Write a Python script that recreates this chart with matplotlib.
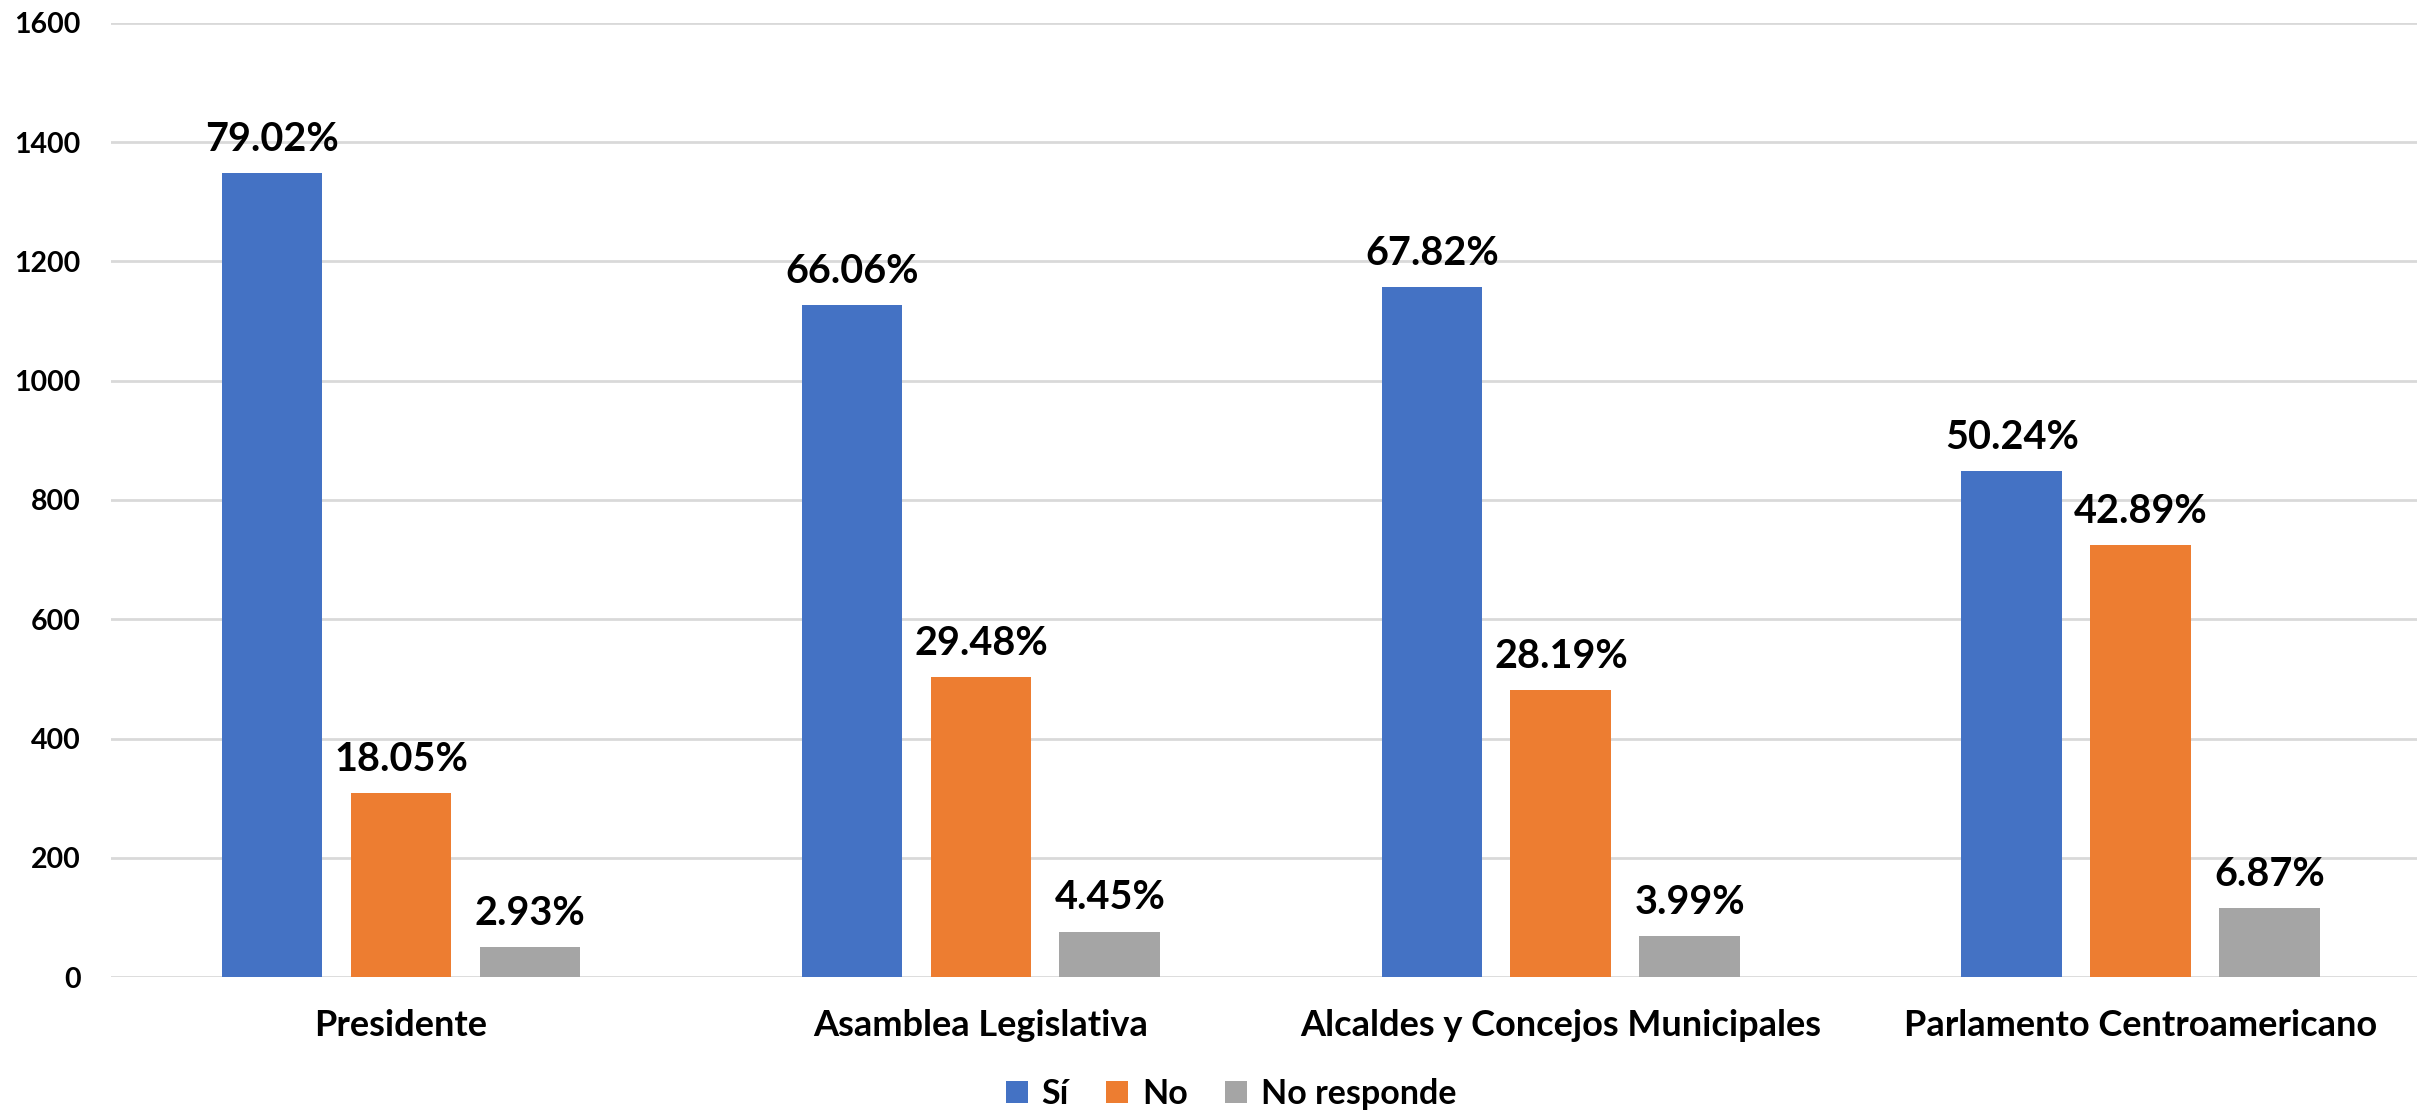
## Encuesta: conocimiento de cargos por elección (gráfico de barras agrupadas)
import numpy as np
import matplotlib.pyplot as plt

plt.rcParams['font.family'] = ['Lato', 'DejaVu Sans']
plt.rcParams['font.weight'] = 'bold'

# datos
categorias = ["Presidente", "Asamblea Legislativa",
              "Alcaldes y Concejos Municipales", "Parlamento Centroamericano"]
series = ["Sí", "No", "No responde"]
si = [1348, 1127, 1157, 848]
no = [308, 503, 481, 724]
no_responde = [50, 76, 68, 116]
pct_si = ["79.02%", "66.06%", "67.82%", "50.24%"]
pct_no = ["18.05%", "29.48%", "28.19%", "42.89%"]
pct_nr = ["2.93%", "4.45%", "3.99%", "6.87%"]
colores = ["#4472C4", "#ED7D31", "#A5A5A5"]

W, H = 2417, 1112
fig = plt.figure(figsize=(W / 100, H / 100), dpi=100)
ax = fig.add_axes([111 / W, 1 - 977 / H, 1 - 111 / W, (977 - 23) / H])

x = np.arange(len(categorias))
ancho = 0.174
paso = 0.2224

for i, (vals, pcts, nombre) in enumerate(zip([si, no, no_responde],
                                             [pct_si, pct_no, pct_nr], series)):
    pos = x + (i - 1) * paso
    barras = ax.bar(pos, vals, width=ancho, color=colores[i], label=nombre, zorder=3)
    for b, p in zip(barras, pcts):
        ax.annotate(p, (b.get_x() + b.get_width() / 2, b.get_height()),
                    xytext=(0, 16), textcoords='offset points',
                    ha='center', va='baseline', fontsize=28.5, fontweight='bold')

ax.set_xlim(-0.5, 3.476)
ax.set_ylim(0, 1600)
ax.set_yticks(range(0, 1601, 200))
ax.set_xticks(x)
ax.set_xticklabels(categorias, fontsize=26, fontweight='bold')
ax.tick_params(axis='x', length=0, pad=23)
ax.tick_params(axis='y', length=0, pad=22, labelsize=20.5)
ax.grid(axis='y', color='#D9D9D9', linewidth=2, zorder=0)
for s in ax.spines.values():
    s.set_visible(False)

leg = fig.legend(loc='center', bbox_to_anchor=(1231 / W, 1 - 1094 / H), ncol=3,
                 frameon=False, fontsize=24.5, handlelength=0.65, handleheight=0.65,
                 handletextpad=0.4, columnspacing=1.1)

plt.savefig('out.png', dpi=100)
